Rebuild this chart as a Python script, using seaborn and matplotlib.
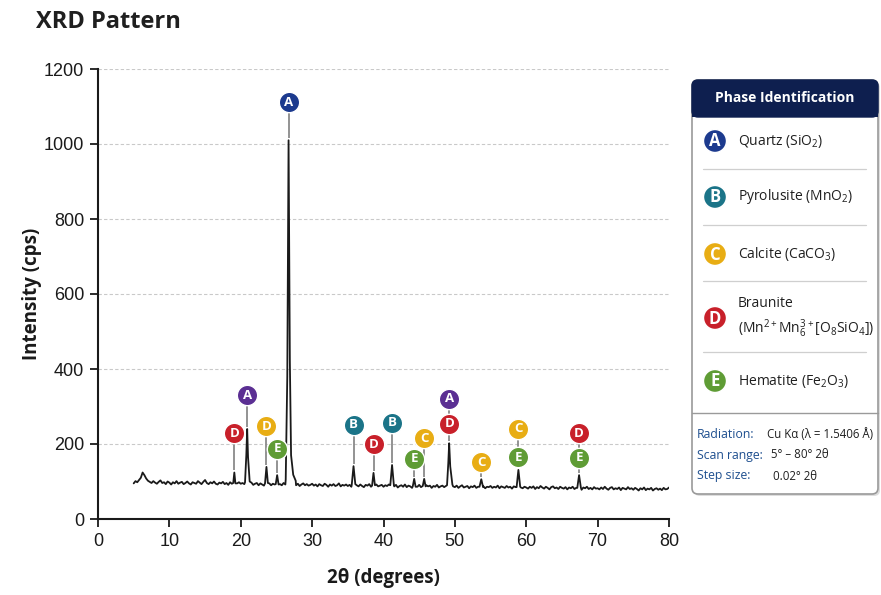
import numpy as np
import pandas as pd
import matplotlib
matplotlib.use("Agg")
import matplotlib.pyplot as plt
import seaborn as sns
from matplotlib.patches import FancyBboxPatch, Rectangle, Circle

# ---------------- data ----------------
scan_start, scan_step = 5.0, 0.25
baseline = [
    95, 101, 98, 104, 110, 124, 117, 108, 102, 99, 96, 101, 97, 94, 99, 103, 96, 98, 93, 100,
    97, 92, 98, 95, 101, 94, 97, 99, 93, 96, 100, 95, 92, 98, 96, 94, 101, 97, 93, 99,
    104, 96, 93, 98, 95, 100, 94, 92, 97, 95, 99, 93, 96, 91, 98, 94, 97, 92, 95, 98,
    94, 96, 93, 90, 95, 92, 97, 91, 94, 96, 90, 95, 92, 89, 96, 93, 95, 90, 94, 92,
    91, 95, 93, 90, 96, 92, 94, 91, 89, 95, 93, 90, 94, 88, 92, 95, 90, 93, 89, 91,
    94, 89, 92, 87, 93, 90, 88, 94, 91, 86, 92, 89, 93, 88, 90, 95, 87, 91, 89, 92,
    88, 91, 86, 93, 89, 90, 87, 92, 88, 85, 91, 89, 93, 86, 90, 88, 92, 87, 89, 91,
    86, 90, 88, 92, 85, 89, 87, 91, 84, 88, 90, 86, 92, 85, 89, 87, 83, 90, 88, 86,
    91, 85, 88, 84, 90, 87, 89, 83, 88, 86, 91, 84, 87, 89, 85, 88, 86, 90, 84, 87,
    85, 89, 83, 87, 90, 84, 86, 88, 82, 87, 85, 89, 83, 86, 88, 84, 87, 82, 86, 85,
    88, 83, 86, 84, 89, 82, 87, 85, 83, 88, 84, 86, 81, 87, 85, 83, 88, 84, 82, 86,
    84, 81, 86, 83, 87, 80, 85, 82, 88, 84, 81, 86, 83, 79, 85, 87, 82, 84, 80, 86,
    83, 81, 85, 79, 84, 82, 86, 80, 83, 85, 81, 78, 84, 82, 86, 80, 83, 79, 85, 81,
    82, 79, 84, 80, 86, 81, 78, 83, 85, 79, 82, 80, 84, 77, 83, 81, 79, 85, 80, 82,
    78, 83, 80, 76, 82, 79, 84, 77, 81, 79, 83, 76, 80, 82, 78, 81, 77, 83, 79, 80, 84,
]
baseline_x = [scan_start + i * scan_step for i in range(len(baseline))]

# peak profiles (2theta, intensity)
peak_profiles = [
    [(18.95, 96), (19.1, 124), (19.25, 95)],
    [(20.6, 98), (20.78, 170), (20.9, 240), (21.02, 165), (21.25, 100)],
    [(23.4, 95), (23.6, 139), (23.8, 96)],
    [(24.9, 93), (25.1, 117), (25.3, 92)],
    [(26.3, 105), (26.52, 380), (26.7, 1010), (26.88, 420), (27.05, 170), (27.35, 118), (27.7, 102)],
    [(35.55, 91), (35.8, 141), (36.05, 93)],
    [(38.4, 89), (38.6, 123), (38.8, 90)],
    [(40.95, 90), (41.2, 144), (41.45, 91)],
    [(44.1, 87), (44.3, 107), (44.5, 86)],
    [(45.5, 88), (45.7, 107), (45.9, 87)],
    [(48.9, 90), (49.08, 150), (49.2, 202), (49.35, 140), (49.65, 92)],
    [(53.45, 86), (53.7, 106), (53.95, 85)],
    [(58.65, 85), (58.9, 131), (59.15, 86)],
    [(67.15, 83), (67.4, 117), (67.65, 84)],
]

# phase markers: (peak 2theta, peak top, [(letter, colour key, label height)])
markers = [
    (19.1, 124, [("D", "D", 229)]),
    (20.9, 240, [("A", "A2", 330)]),
    (23.6, 139, [("D", "C", 248)]),
    (25.1, 117, [("E", "E", 187)]),
    (26.7, 1010, [("A", "A", 1112)]),
    (35.8, 141, [("B", "B", 251)]),
    (38.6, 123, [("D", "D", 200)]),
    (41.2, 144, [("B", "B", 256)]),
    (44.3, 107, [("E", "E", 160)]),
    (45.7, 107, [("C", "C", 216)]),
    (49.2, 202, [("D", "D", 254), ("A", "A2", 321)]),
    (53.7, 106, [("C", "C", 152)]),
    (58.9, 131, [("E", "E", 165), ("C", "C", 240)]),
    (67.4, 117, [("E", "E", 163), ("D", "D", 229)]),
]

phase_letters = ["A", "B", "C", "D", "E"]
phase_names = [
    "Quartz (SiO$_{2}$)",
    "Pyrolusite (MnO$_{2}$)",
    "Calcite (CaCO$_{3}$)",
    "Braunite\n(Mn$^{2+}$Mn$^{3+}_{6}$[O$_{8}$SiO$_{4}$])",
    "Hematite (Fe$_{2}$O$_{3}$)",
]
info_keys = ["Radiation:", "Scan range:", "Step size:"]
info_vals = ["Cu K\u03b1 (\u03bb = 1.5406 \u00c5)", "5\u00b0 \u2013 80\u00b0 2\u03b8", "0.02\u00b0 2\u03b8"]

colors = {"A": "#1c3a8e", "A2": "#5b2f93", "B": "#1b7488", "C": "#e8ad14",
          "D": "#c8202a", "E": "#5f9c35"}

# ---------------- build the pattern ----------------
windows = [(p[0][0], p[-1][0]) for p in peak_profiles]
xs, ys = [], []
for x, y in zip(baseline_x, baseline):
    if not any(a <= x <= b for a, b in windows):
        xs.append(x)
        ys.append(y)
for prof in peak_profiles:
    for x, y in prof:
        xs.append(x)
        ys.append(y)
df = pd.DataFrame({"two_theta": xs, "intensity": ys}).sort_values("two_theta")

# ---------------- styling ----------------
sns.set_theme(style="white")
plt.rcParams["font.family"] = ["Liberation Sans Narrow", "Liberation Sans", "DejaVu Sans"]
plt.rcParams["mathtext.default"] = "regular"
OPEN = ["Open Sans", "DejaVu Sans"]

W, H = 881, 595
fig = plt.figure(figsize=(W / 100, H / 100), dpi=100)
ax = fig.add_axes([98 / W, 1 - 519 / H, (669 - 98) / W, (519 - 69) / H])

sns.lineplot(data=df, x="two_theta", y="intensity", ax=ax, color="#1a1a1a",
             linewidth=1.3, estimator=None, sort=True, zorder=3)

ax.set_xlim(0, 80)
ax.set_ylim(0, 1200)
ax.set_xticks(range(0, 81, 10))
ax.set_yticks(range(0, 1201, 200))
ax.yaxis.grid(True, color="#c9c9c9", linestyle=(0, (3, 2)), linewidth=0.8)
ax.xaxis.grid(False)
for s in ["top", "right"]:
    ax.spines[s].set_visible(False)
for s in ["left", "bottom"]:
    ax.spines[s].set_color("#1a1a1a")
    ax.spines[s].set_linewidth(1.5)
ax.tick_params(axis="both", direction="out", length=6, width=1.3, color="#1a1a1a",
               labelsize=13, labelcolor="#1a1a1a", pad=4, left=True, bottom=True)
ax.set_xlabel("2\u03b8 (degrees)", fontsize=13.5, fontweight="bold", color="#1a1a1a",
              family=OPEN, labelpad=13)
ax.set_ylabel("Intensity (cps)", fontsize=13.5, fontweight="bold", color="#1a1a1a",
              family=OPEN, labelpad=1)

# phase markers
rad = 24
for px_, top, labs in markers:
    prev = top + 6
    for letter, ckey, yl in labs:
        ax.plot([px_, px_], [prev, yl - rad], color="#8a8a8a", lw=1.3, zorder=2,
                solid_capstyle="butt")
        ax.scatter([px_], [yl], s=215, color=colors[ckey], edgecolor="white",
                   linewidth=1.0, zorder=5)
        ax.text(px_, yl, letter, color="white", fontsize=9.5, fontweight="bold",
                ha="center", va="center", zorder=6, family=OPEN)
        prev = yl + rad

# title
fig.text(36 / W, 1 - 22 / H, "XRD Pattern", fontsize=17, fontweight="bold",
         color="#1f1f1f", va="center", ha="left", family=OPEN)

# ---------------- phase identification panel ----------------
ov = fig.add_axes([0, 0, 1, 1], zorder=10)
ov.set_xlim(0, W)
ov.set_ylim(H, 0)
ov.axis("off")

x0, x1, y0, y1 = 692, 878, 80, 494
ov.add_patch(FancyBboxPatch((x0 + 2, y0 + 2), x1 - x0, y1 - y0,
                            boxstyle="round,pad=0,rounding_size=6",
                            fc="#dddddd", ec="none", zorder=0))
ov.add_patch(FancyBboxPatch((x0, y0), x1 - x0, y1 - y0,
                            boxstyle="round,pad=0,rounding_size=6",
                            fc="white", ec="#9a9a9a", lw=1.2, zorder=1))
ov.add_patch(FancyBboxPatch((x0, y0), x1 - x0, 37,
                            boxstyle="round,pad=0,rounding_size=6",
                            fc="#0e1f4f", ec="#0e1f4f", lw=1.0, zorder=2))
ov.add_patch(Rectangle((x0, y0 + 25), x1 - x0, 12, fc="#0e1f4f", ec="none", zorder=2))
ov.text((x0 + x1) / 2, y0 + 18, "Phase Identification", color="white", fontsize=10,
        fontweight="bold", ha="center", va="center", zorder=3, family=OPEN)

row_y = [141, 197, 254, 318, 381]
sep_y = [169, 225, 281, 352]
for letter, name, yy in zip(phase_letters, phase_names, row_y):
    ov.add_patch(Circle((715, yy), 11.5, fc=colors[letter], ec="white", lw=1, zorder=3))
    ov.text(715, yy + 0.5, letter, color="white", fontsize=12, fontweight="bold",
            ha="center", va="center", zorder=4, family=OPEN)
    ov.text(738, yy, name, color="#1f1f1f", fontsize=10, ha="left", va="center",
            zorder=4, linespacing=1.35, family=OPEN)
for yy in sep_y:
    ov.plot([703, 866], [yy, yy], color="#cfcfcf", lw=0.9, zorder=3)
ov.plot([x0, x1], [413, 413], color="#9a9a9a", lw=1.0, zorder=3)

info_y = [434, 455, 476]
info_x = [767, 771, 773]
for k, v, yy, vx in zip(info_keys, info_vals, info_y, info_x):
    ov.text(697, yy, k, color="#1e4f8f", fontsize=8.8, ha="left", va="center",
            zorder=4, family=OPEN)
    ov.text(vx, yy, v, color="#1f1f1f", fontsize=8.3, ha="left", va="center",
            zorder=4, family=OPEN)

fig.savefig("out.png", dpi=100)
